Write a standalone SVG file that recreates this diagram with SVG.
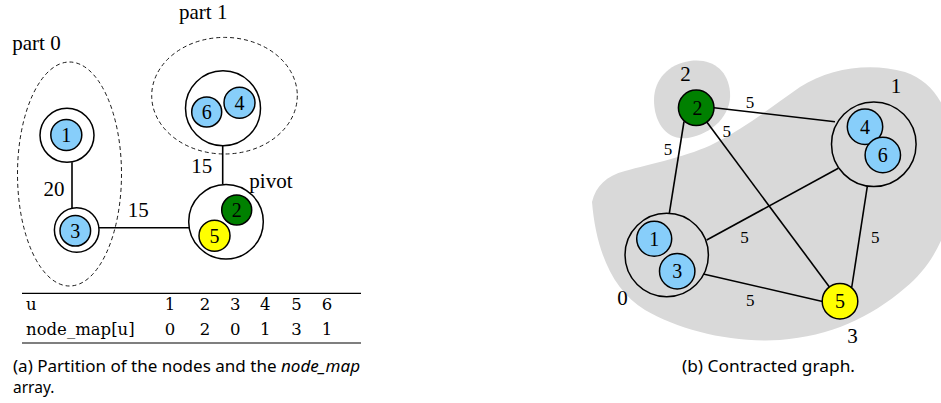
<svg xmlns="http://www.w3.org/2000/svg" width="941" height="403" viewBox="0 0 941 403">
  <style>
    .ring { fill: none; stroke: #000; stroke-width: 1.5; }
    .ringg { fill: #d9d9d9; stroke: #000; stroke-width: 1.5; }
    .blue { fill: #87cefa; stroke: #000; stroke-width: 1.5; }
    .green { fill: #008000; stroke: #000; stroke-width: 1.5; }
    .yellow { fill: #ffff00; stroke: #000; stroke-width: 1.5; }
    .part { fill: none; stroke: #000; stroke-width: 0.9; stroke-dasharray: 4 3; }
    .edge { stroke: #000; stroke-width: 1.6; fill: none; }
    .rule { stroke: #000; stroke-width: 1.2; }
    .lbl { font-family: "Liberation Serif", "Times New Roman", serif; font-size: 20px; fill: #000; }
    .mid { text-anchor: middle; }
    .big { font-size: 21px; }
    .small { font-size: 17px; }
    .tab { font-family: "DejaVu Serif", serif; font-size: 16.5px; fill: #000; }
    .cap { font-family: "Noto Sans", "Open Sans", sans-serif; font-size: 15.5px; fill: #000; }
    .blob { fill: #d9d9d9; stroke: none; }
  </style>

  <!-- (a) partition of the nodes -->
  <g id="partitions">
    <ellipse class="part" cx="69.5" cy="174" rx="52" ry="112"/>
    <ellipse class="part" cx="224.5" cy="95.7" rx="72.8" ry="58.3"/>
    <text class="lbl big" x="12.3" y="50">part 0</text>
    <text class="lbl big" x="179" y="19.3">part 1</text>
  </g>

  <g id="left-edges">
    <line class="edge" x1="72" y1="162.3" x2="72" y2="208.3"/>
    <line class="edge" x1="99" y1="227.7" x2="189" y2="227.7"/>
    <line class="edge" x1="222.7" y1="145.7" x2="222.7" y2="184"/>
    <text class="lbl big mid" x="54" y="195.7">20</text>
    <text class="lbl big mid" x="201.7" y="173.3">15</text>
    <text class="lbl big mid" x="138.3" y="216.7">15</text>
  </g>

  <g id="a-node1">
    <circle class="ring" cx="67" cy="135.3" r="27"/>
    <circle class="blue" cx="66.3" cy="135" r="15.5"/>
    <text class="lbl mid" x="66.3" y="142">1</text>
  </g>

  <g id="a-node3">
    <circle class="ring" cx="76.7" cy="230" r="22.3"/>
    <circle class="blue" cx="75.3" cy="230.8" r="15.3"/>
    <text class="lbl mid" x="75.3" y="237.8">3</text>
  </g>

  <g id="a-part1">
    <circle class="ring" cx="223" cy="108.3" r="37.5"/>
    <circle class="blue" cx="206.7" cy="112" r="15"/>
    <text class="lbl mid" x="206.7" y="119">6</text>
    <circle class="blue" cx="239.5" cy="102.8" r="15.5"/>
    <text class="lbl mid" x="239.5" y="109.8">4</text>
  </g>

  <g id="a-pivot">
    <circle class="ring" cx="226" cy="221.7" r="37.3"/>
    <circle class="green" cx="236.7" cy="210" r="15"/>
    <text class="lbl mid" x="236.7" y="217">2</text>
    <circle class="yellow" cx="214.5" cy="235.8" r="15.5"/>
    <text class="lbl mid" x="214.5" y="242.8">5</text>
    <text class="lbl big" x="249.3" y="188.3">pivot</text>
  </g>

  <!-- node_map table -->
  <g id="table">
    <line class="rule" x1="22" y1="293.3" x2="361" y2="293.3"/>
    <line class="rule" x1="22" y1="343" x2="361" y2="343"/>
    <text class="tab" x="26" y="310">u</text>
    <text class="tab" x="26" y="335">node_map[u]</text>
    <g class="tab" text-anchor="middle">
      <text x="170" y="310">1</text>
      <text x="205" y="310">2</text>
      <text x="235.3" y="310">3</text>
      <text x="265.3" y="310">4</text>
      <text x="296.5" y="310">5</text>
      <text x="327" y="310">6</text>
      <text x="170" y="335">0</text>
      <text x="205" y="335">2</text>
      <text x="235.3" y="335">0</text>
      <text x="265.3" y="335">1</text>
      <text x="296.5" y="335">3</text>
      <text x="327" y="335">1</text>
    </g>
  </g>

  <g id="caption-a">
    <text class="cap" x="13" y="372" textLength="347" lengthAdjust="spacingAndGlyphs">(a) Partition of the nodes and the <tspan font-style="italic">node_map</tspan></text>
    <text class="cap" x="13" y="393">array.</text>
  </g>

  <!-- (b) contracted graph -->
  <g id="regions">
    <path class="blob" d="M 690,61 C 712,58 728,70 730,92 C 732,115 712,134 688,138 C 666,141 654,122 654,100 C 654,80 668,64 690,61 Z"/>
    <path class="blob" d="M 592,202 C 596,186 606,176 625,171 C 650,164 690,156 715,143 C 745,128 770,108 800,87 C 830,68 870,62 905,72 C 935,82 950,110 955,150 C 960,210 940,260 905,288 C 870,318 830,336 780,340 C 730,343 680,330 645,310 C 612,290 596,250 592,202 Z"/>
    <text class="lbl big mid" x="685.5" y="81">2</text>
    <text class="lbl big mid" x="896" y="93.3">1</text>
    <text class="lbl big mid" x="622.5" y="305">0</text>
    <text class="lbl big mid" x="852.5" y="343.3">3</text>
  </g>

  <g id="b-edges">
    <line class="edge" x1="714" y1="107.8" x2="835" y2="121.7"/>
    <line class="edge" x1="684" y1="121.5" x2="669.3" y2="213.3"/>
    <line class="edge" x1="706.8" y1="122.1" x2="829.4" y2="286.9"/>
    <line class="edge" x1="706.7" y1="240" x2="838.3" y2="168.3"/>
    <line class="edge" x1="703.3" y1="274" x2="822.5" y2="301.5"/>
    <line class="edge" x1="867.3" y1="186.5" x2="851.7" y2="287.5"/>
    <text class="lbl small mid" x="750" y="108.3">5</text>
    <text class="lbl small mid" x="726.7" y="136.7">5</text>
    <text class="lbl small mid" x="668" y="155">5</text>
    <text class="lbl small mid" x="744.5" y="242.7">5</text>
    <text class="lbl small mid" x="875.3" y="242.7">5</text>
    <text class="lbl small mid" x="750.3" y="306">5</text>
  </g>

  <g id="b-node2">
    <circle class="green" cx="696.2" cy="107.8" r="17.8"/>
    <text class="lbl mid" x="697.5" y="115">2</text>
  </g>

  <g id="b-node13">
    <circle class="ringg" cx="666.7" cy="255" r="41.7"/>
    <circle class="blue" cx="654.2" cy="238.8" r="17.5"/>
    <text class="lbl mid" x="654.2" y="245.8">1</text>
    <circle class="blue" cx="677.2" cy="271.3" r="17.7"/>
    <text class="lbl mid" x="677.2" y="278.3">3</text>
  </g>

  <g id="b-node46">
    <circle class="ringg" cx="873.8" cy="144.2" r="42.3"/>
    <circle class="blue" cx="865" cy="126.7" r="17.7"/>
    <text class="lbl mid" x="865" y="133.7">4</text>
    <circle class="blue" cx="882.8" cy="155" r="17.7"/>
    <text class="lbl mid" x="882.8" y="162">6</text>
  </g>

  <g id="b-node5">
    <circle class="yellow" cx="840" cy="301.2" r="17.8"/>
    <text class="lbl mid" x="840" y="308.2">5</text>
  </g>

  <g id="caption-b">
    <text class="cap" x="682" y="372" textLength="173" lengthAdjust="spacingAndGlyphs">(b) Contracted graph.</text>
  </g>
</svg>
